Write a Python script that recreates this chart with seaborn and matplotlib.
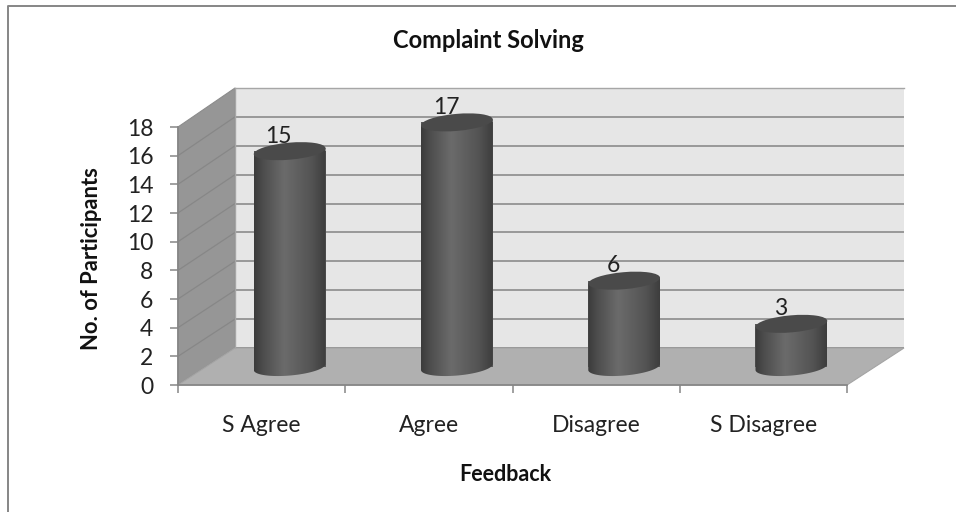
#!/usr/bin/env python3
"""Complaint Solving: fake 3D cylinder bars, built from three stacked axes."""

import numpy as np
import pandas as pd
import matplotlib
matplotlib.use('Agg')
import matplotlib.pyplot as plt
import seaborn as sns
from matplotlib.patches import Ellipse, Polygon
from matplotlib.transforms import IdentityTransform

# data
categories = ['S Agree', 'Agree', 'Disagree', 'S Disagree']
participants = [15, 17, 6, 3]
y_ticks = [0, 2, 4, 6, 8, 10, 12, 14, 16, 18]

W, H = 956, 512
FONT = 'Lato'


def axes_at(left, right, top, bottom):
    # axes placed in image pixels (y counted from the top)
    return fig.add_axes([left / W, 1 - bottom / H, (right - left) / W, (bottom - top) / H])


def flip(x, y):
    return (x, H - y)


sns.set_theme(style='white')
plt.rcParams['font.family'] = [FONT, 'DejaVu Sans']

fig = plt.figure(figsize=(W / 100, H / 100), dpi=100, facecolor='white')

# outer frame: only the left and top edges show in the source
fig.add_artist(plt.Line2D([8 / W, 8 / W, 1], [0, 1 - 6 / H, 1 - 6 / H], color='#868686',
                          linewidth=1.4, zorder=-2))

# side wall and floor
fig.add_artist(Polygon([flip(178, 127), flip(235, 88), flip(235, 348), flip(178, 385)],
                       transform=IdentityTransform(), facecolor='#969696',
                       edgecolor='#8c8c8c', linewidth=0.8, zorder=-2))
fig.add_artist(Polygon([flip(178, 385), flip(235, 348), flip(904, 348), flip(847, 385)],
                       transform=IdentityTransform(), facecolor='#b0b0b0',
                       edgecolor='#a4a4a4', linewidth=0.8, zorder=-1.5))

# back wall with the gridlines
ax_back = axes_at(235, 904, 88, 348)
ax_back.set_facecolor('#e6e6e6')
ax_back.set_xlim(0, 4)
ax_back.set_ylim(0, 18)
ax_back.set_xticks([])
ax_back.set_yticks(y_ticks)
ax_back.set_yticklabels([])
ax_back.tick_params(left=False)
ax_back.grid(axis='y', color='#929292', linewidth=1.3)
for s in ax_back.spines.values():
    s.set_color('#a6a6a6')
    s.set_linewidth(1.0)
ax_back.spines['bottom'].set_visible(False)
ax_back.spines['right'].set_visible(False)

# grid continues across the side wall
for v in y_ticks[1:-1]:
    y_b = 348 - v * 260 / 18
    y_f = 385 - v * 258 / 18
    fig.add_artist(plt.Line2D([178 / W, 235 / W], [1 - y_f / H, 1 - y_b / H],
                              color='#878787', linewidth=0.9, zorder=-1))

# front plane: axis lines, ticks and labels
ax_front = axes_at(178, 847, 127, 385)
ax_front.patch.set_alpha(0)
ax_front.set_xlim(0, 4)
ax_front.set_ylim(0, 18)
ax_front.set_xticks(range(5))
ax_front.set_xticklabels([])
ax_front.set_yticks(y_ticks)
ax_front.tick_params(axis='both', direction='out', length=5.8, width=1.1, color='#868686',
                     left=True, bottom=True)
ax_front.tick_params(axis='y', labelsize=16.5, labelcolor='#222222', pad=12)
for s in ['top', 'right']:
    ax_front.spines[s].set_visible(False)
for s in ['left', 'bottom']:
    ax_front.spines[s].set_color('#868686')
for i, c in enumerate(categories):
    ax_front.text(i + 0.5, -2.85, c, ha='center', va='center', fontsize=16.5, color='#222222')
ax_front.set_ylabel('No. of Participants', fontsize=15.8, fontweight='bold', color='#111111',
                    va='center')
ax_front.yaxis.set_label_coords(-0.1286, 0.49)
ax_front.set_xlabel('Feedback', fontsize=15.5, fontweight='bold', color='#111111', va='center')
ax_front.xaxis.set_label_coords(0.49, -0.345)

# mid plane: the cylinders; the axes run below zero so the rounded bases are not cut off
ax_bars = axes_at(206, 875, 108, 385)
ax_bars.patch.set_alpha(0)
df = pd.DataFrame({'Feedback': categories, 'Participants': participants})
sns.barplot(data=df, x='Feedback', y='Participants', color='#5a5a5a', width=0.43, linewidth=0,
            ax=ax_bars)
ax_bars.set_xlim(-0.5, 3.5)
ax_bars.set_ylim(-1.25, 18)
ax_bars.axis('off')

shade = np.interp(np.linspace(0, 1, 256), [0, 0.12, 0.42, 0.8, 1],
                  [0.23, 0.30, 0.42, 0.33, 0.24]).reshape(1, -1)
TILT = 5
for bar, v in zip(ax_bars.patches, participants):
    x0, x1 = bar.get_x(), bar.get_x() + bar.get_width()
    xc = (x0 + x1) / 2
    cx, ty = ax_bars.transData.transform((xc, v))
    _, by = ax_bars.transData.transform((xc, 0))
    rx = 36
    ry = 8.5
    t = np.radians(np.linspace(180, 360, 40))
    a = np.radians(TILT)
    ex = rx * np.cos(t) * np.cos(a) - ry * np.sin(t) * np.sin(a)
    ey = rx * np.cos(t) * np.sin(a) + ry * np.sin(t) * np.cos(a)
    pts = [(cx + ex[0], ty + ey[0])] + list(zip(cx + ex, by + ey)) + [(cx + ex[-1], ty + ey[-1])]
    clip = Polygon(pts, closed=True, transform=IdentityTransform())
    im = ax_bars.imshow(shade, cmap='gray', vmin=0, vmax=1, aspect='auto',
                        extent=[x0, x1, -2, v + 2], zorder=3)
    im.set_clip_path(clip)
    ax_bars.add_artist(Ellipse((cx, ty), 2 * rx, 2 * ry, angle=TILT, transform=IdentityTransform(),
                               facecolor='#4a4a4a', edgecolor='none', zorder=4))
    ax_bars.annotate(str(v), (xc, v), xytext=(-11 * 0.72, 15 * 0.72), textcoords='offset points',
                     ha='center', va='center', fontsize=16.5, color='#222222', zorder=5)
ax_bars.set_xlim(-0.5, 3.5)
ax_bars.set_ylim(-1.25, 18)

fig.text(488 / W, 1 - 41 / H, 'Complaint Solving', ha='center', va='center', fontsize=17,
         fontweight='bold', color='#111111')

fig.savefig('out.png', dpi=100)
